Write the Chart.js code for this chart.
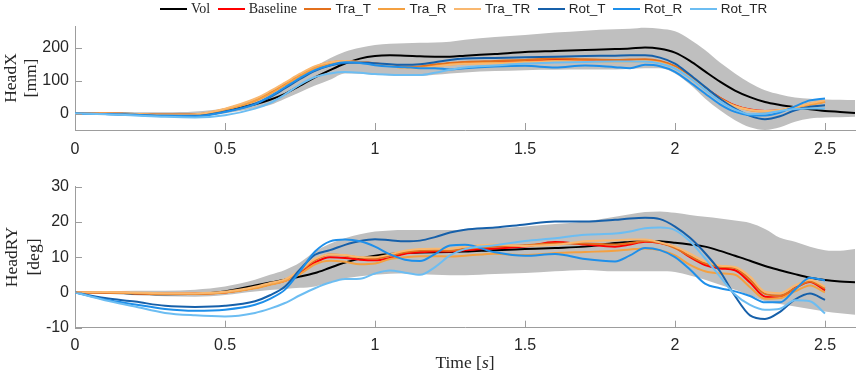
<!DOCTYPE html>
<html><head><meta charset="utf-8">
<script src="https://cdn.jsdelivr.net/npm/chart.js@4.4.0/dist/chart.umd.min.js"></script>
<style>
html,body{margin:0;padding:0;background:#fff;}
#wrap{position:relative;width:858px;height:374px;overflow:hidden;background:#fff;}
canvas{position:absolute;left:0;}
.ttl{position:absolute;font-family:"Liberation Serif","Times New Roman",serif;font-size:17.5px;color:#262626;white-space:nowrap;line-height:1;transform:translate(-50%,-50%) rotate(-90deg);}
#xt{position:absolute;font-family:"Liberation Serif","Times New Roman",serif;font-size:17.5px;color:#262626;white-space:nowrap;line-height:1;transform:translate(-50%,-50%);}
#legend{position:absolute;left:160px;top:0;height:17px;display:flex;align-items:center;z-index:5;}
.it{display:flex;align-items:center;margin-right:7.5px;}
.ln{width:27px;height:2px;margin-right:4px;}
.tx{font-family:"Liberation Sans",Arial,sans-serif;font-size:13.5px;color:#262626;line-height:1;}
.tx.serif{font-family:"Liberation Serif","Times New Roman",serif;font-size:14px;}
</style></head>
<body><div id="wrap">
<canvas id="c1" width="858" height="160" style="top:0"></canvas>
<canvas id="c2" width="858" height="214" style="top:160px"></canvas>
<div id="legend"></div>
<div class="ttl" style="left:11px;top:78px">HeadX</div>
<div class="ttl" style="left:31px;top:78px">[mm]</div>
<div class="ttl" style="left:12px;top:257px">HeadRY</div>
<div class="ttl" style="left:34px;top:257px">[deg]</div>
<div id="xt" style="left:465px;top:363px">Time [<i>s</i>]</div>
</div>
<script>
// ---------- data ----------
const seriesNames = ['Vol','Baseline','Tra_T','Tra_R','Tra_TR','Rot_T','Rot_R','Rot_TR'];
const seriesColors = ['#000000','#FF0000','#E3701C','#F4A040','#F9B870','#1660AA','#1E8FEA','#6CBDF2'];
const xTicks = [0,0.5,1,1.5,2,2.5];
const yTicksX = [0,100,200];
const yTicksRY = [-10,0,10,20,30];

const time = [0,0.1,0.2,0.3,0.4,0.5,0.6,0.65,0.7,0.75,0.8,0.85,0.9,0.95,1.0,1.05,1.1,1.15,1.2,1.25,1.3,1.4,1.5,1.6,1.7,1.8,1.85,1.9,1.95,2.0,2.05,2.1,2.15,2.2,2.25,2.3,2.35,2.4,2.45,2.5];
const timeVol = [0,0.1,0.2,0.3,0.4,0.5,0.6,0.65,0.7,0.75,0.8,0.85,0.9,0.95,1.0,1.05,1.1,1.15,1.2,1.25,1.3,1.4,1.5,1.6,1.7,1.8,1.85,1.9,1.95,2.0,2.05,2.1,2.15,2.2,2.25,2.3,2.35,2.4,2.45,2.5,2.55,2.6];

// HeadX [mm]
const volX   = [0,0,-1,-3,-3,8,28,42,60,85,110,132,152,167,175,177,176,174,173,173,176,181,187,190,193,196,198,201,197,185,160,128,97,70,50,35,26,19,13,8,5,2];
const volXHi = [2,3,4,4,6,16,40,58,81,112,142,168,188,200,208,212,214,215,216,218,224,233,239,246,252,256,258,261,258,250,225,193,155,122,93,71,58,49,45,43,42,41];
const volXLo = [-2,-3,-5,-9,-10,0,16,26,45,65,85,103,122,121,118,116,115,115,118,122,125,129,132,133,134,134,136,138,138,122,88,46,10,-20,-42,-50,-42,-25,-15,-12,-11,-10];
const baseX  = [0,0,-2,-4,-3,12,40,62,88,116,140,153,158,156,152,146,140,141,147,152,155,157,160,164,162,160,162,163,158,142,112,78,48,25,12,8,10,18,28,36];
const traTX  = [0,0,-2,-4,-3,13,42,64,90,118,142,155,159,157,153,147,142,143,149,154,157,160,163,167,165,163,164,165,160,144,113,79,48,24,11,7,10,19,30,38];
const traRX  = [0,0,-2,-4,-4,11,38,60,86,114,138,151,157,155,151,145,139,139,144,149,152,154,157,160,159,157,158,160,155,139,109,75,45,22,10,6,9,17,27,35];
const traTRX = [0,0,-1,-3,-2,15,45,68,94,121,144,156,160,157,152,145,138,138,143,148,151,152,155,158,157,156,157,159,154,138,108,74,44,22,11,8,11,20,31,40];
const rotTX  = [0,-1,-4,-7,-7,6,30,50,77,105,130,146,154,155,153,150,148,150,156,163,167,169,171,173,175,176,177,177,170,152,118,81,45,15,-7,-17,-8,10,21,25];
const rotRX  = [0,-1,-4,-7,-8,5,28,52,80,108,132,147,156,154,147,143,141,138,138,134,138,143,145,140,146,141,138,148,144,127,95,61,28,5,-5,-6,3,22,40,46];
const rotTRX = [0,-2,-6,-10,-12,-5,15,32,58,88,111,122,126,124,120,118,117,117,124,133,140,146,152,155,157,158,158,158,152,137,108,72,38,12,-2,0,8,14,15,15];

// HeadRY [deg]
const volRY   = [0,0,-0.3,-0.5,-0.4,0.3,2,2.8,3.6,4.5,5.5,7,8.5,9.6,10.4,10.9,11.2,11.3,11.4,11.5,11.6,12,12.3,12.6,13,14,14.3,14.6,14.5,14.1,13.6,13,11.8,10.4,9,7.5,6.3,5.2,4.2,3.5,3.1,2.9];
const volRYHi = [0,0.3,0.5,0.5,0.8,1.7,3.6,5,6.4,8.5,11.6,13.8,15.4,16.5,17.3,17.6,17.7,17.7,17.7,17.7,17.8,18.2,18.7,19.4,20.1,21.5,22.2,22.8,23,22.6,22,21.5,21,20.4,19.7,18,15.5,14.4,13,12,11.8,12.3];
const volRYLo = [0,-0.4,-0.8,-1.1,-1.2,-0.7,0.3,0.7,1,1.3,1.7,2.8,4,4.6,5,5.3,5.4,5.2,5,4.9,4.9,5.2,5.5,6,6.4,6,6,6,6,5.8,4.8,3.6,2.2,0.8,-0.8,-2.5,-3.3,-4,-4.7,-5.4,-5.9,-6.3];
const baseRY  = [0,0,-0.2,-0.4,-0.3,0,1.3,2.3,3.3,5.5,8.5,10,9.8,9.3,9.1,9.8,11,11.4,11.6,11.6,12,12.5,13,14.3,13.6,13,13.6,14.4,14,12.8,10,7.8,6.8,6.3,2.8,-1.2,-1.4,1.3,3,0.6];
const traTRY  = [0,0,-0.2,-0.4,-0.4,0,1.4,2.5,3.5,6,9.2,10.8,10.5,9.9,9.6,10.4,11.4,11.9,12,11.8,12.4,13,13.4,13.9,13.9,13.6,14,14.6,14.1,12.6,10.3,8.3,7.3,6.9,3.6,-0.4,-0.9,1.2,3.1,1.1];
const traRRY  = [0,0,-0.2,-0.4,-0.4,0,1.2,2.2,3.2,5.2,8,9,8.7,8,8.2,9.5,10,10.3,10.3,10.2,10.4,11,10.6,11.2,11.5,11.8,12.2,12.5,12,10.5,7.8,6,5.4,5,1.5,-1.8,-1.6,0.3,2,0];
const traTRRY = [0,0.1,0,-0.2,-0.2,0.2,1.6,2.7,3.7,6.3,9.5,10.8,10.6,10,10,10.8,11.8,12.3,12.4,12.4,13,13.6,13.2,13.5,14.5,14.8,15,15,14.2,13,11,8.8,7.6,7.2,4.5,0.2,-0.2,2,3.6,1.6];
const rotTRY  = [0,-1.6,-2.6,-3.8,-4.1,-3.8,-2.5,-0.8,1.7,6.5,10.7,12,13.5,14.6,15.1,14.8,14.5,14.7,15.7,17,17.8,18.4,19.3,20.1,20.1,20.6,21,21.2,20.8,18.7,15.5,11.2,6,-1,-6.5,-7.5,-5.5,-2,-0.3,-2.1];
const rotRRY  = [0,-2,-3.4,-4.7,-5.2,-4.9,-3.5,-1.8,0.8,6,11.6,14.5,15,14.5,13,10.8,9.3,8.9,10.9,13.3,13.5,11.4,10.4,10.9,9.5,8.8,10.5,12.6,12,10,6.5,2.5,1.2,0.3,-1,-2.8,-2.8,0.8,4.2,3.4];
const rotTRRY = [0,-2.2,-4,-5.8,-6.5,-6.8,-5.8,-4.6,-3,-0.8,1.2,2.8,3.8,3.9,5.4,6.2,5.6,5,7.2,10.5,12.3,13.4,14.6,15.4,16.4,16.7,17.3,18.2,18.4,17.7,14.5,9.7,4.5,-0.6,-3.5,-4.9,-4.6,-2.2,-2.5,-6];

// ---------- styling ----------
const AXIS = '#9d9d9d';
const TEXT = '#262626';
const BAND = '#BFBFBF';

// legend
const leg = document.getElementById('legend');
seriesNames.forEach((n,i)=>{
  const it = document.createElement('div'); it.className='it';
  const ln = document.createElement('div'); ln.className='ln'; ln.style.background = seriesColors[i];
  const tx = document.createElement('span'); tx.className = 'tx' + (i<2 ? ' serif' : ''); tx.textContent = n;
  it.appendChild(ln); it.appendChild(tx); leg.appendChild(it);
});

const pts = (t, v) => t.map((x,i)=>({x:x, y:v[i]}));
function lineDs(i, t, v){
  return {label: seriesNames[i], data: pts(t,v), borderColor: seriesColors[i], backgroundColor: seriesColors[i],
    borderWidth: 2, pointRadius: 0, fill: false, cubicInterpolationMode: 'monotone', order: 10 - i};
}
function bandDs(t, lo, hi){
  return [
    {label:'lo', data: pts(t,lo), borderWidth:0, borderColor:'rgba(0,0,0,0)', pointRadius:0, fill:false, cubicInterpolationMode:'monotone', order:101},
    {label:'hi', data: pts(t,hi), borderWidth:0, borderColor:'rgba(0,0,0,0)', backgroundColor: BAND, pointRadius:0, fill:'-1', cubicInterpolationMode:'monotone', order:100}
  ];
}

const inwardTicks = {
  id:'inwardTicks',
  afterDatasetsDraw(chart){
    const {ctx, chartArea:a, scales:{x,y}} = chart;
    ctx.save(); ctx.strokeStyle = AXIS; ctx.lineWidth = 1; ctx.beginPath();
    x.ticks.forEach(t=>{ const px = Math.round(x.getPixelForValue(t.value))+0.5; ctx.moveTo(px, a.bottom); ctx.lineTo(px, a.bottom-7); });
    y.ticks.forEach(t=>{ const py = Math.round(y.getPixelForValue(t.value))+0.5; ctx.moveTo(a.left, py); ctx.lineTo(a.left+7, py); });
    ctx.stroke(); ctx.restore();
  }
};

function makeChart(id, datasets, yMin, yMax, yTickVals, padTop, xH, xPad){
  return new Chart(document.getElementById(id), {
    type:'line',
    data:{datasets: datasets},
    options:{
      responsive:false, animation:false, events:[],
      layout:{padding:{top:padTop, right:3, left:0, bottom:0}},
      plugins:{legend:{display:false}, tooltip:{enabled:false}},
      scales:{
        x:{type:'linear', min:0, max:2.6,
           afterBuildTicks: s => { s.ticks = xTicks.map(v=>({value:v})); },
           afterFit: s => { s.height = xH; },
           grid:{drawOnChartArea:false, drawTicks:false},
           border:{display:true, color:AXIS, width:1},
           ticks:{padding:xPad, color:TEXT, font:{family:'"Liberation Sans", Arial, sans-serif', size:16}, callback: v => String(v), maxRotation:0}},
        y:{type:'linear', min:yMin, max:yMax,
           afterBuildTicks: s => { s.ticks = yTickVals.map(v=>({value:v})); },
           afterFit: s => { s.width = 75; },
           grid:{drawOnChartArea:false, drawTicks:false},
           border:{display:true, color:AXIS, width:1},
           ticks:{padding:6, color:TEXT, font:{family:'"Liberation Sans", Arial, sans-serif', size:16}, callback: v => String(v)}}
      }
    },
    plugins:[inwardTicks]
  });
}

const dsX = bandDs(timeVol, volXLo, volXHi).concat([
  lineDs(0, timeVol, volX), lineDs(1, time, baseX), lineDs(2, time, traTX), lineDs(3, time, traRX),
  lineDs(4, time, traTRX), lineDs(5, time, rotTX), lineDs(6, time, rotRX), lineDs(7, time, rotTRX)]);
const dsRY = bandDs(timeVol, volRYLo, volRYHi).concat([
  lineDs(0, timeVol, volRY), lineDs(1, time, baseRY), lineDs(2, time, traTRY), lineDs(3, time, traRRY),
  lineDs(4, time, traTRRY), lineDs(5, time, rotTRY), lineDs(6, time, rotRRY), lineDs(7, time, rotTRRY)]);

makeChart('c1', dsX, -50, 264, yTicksX, 26.7, 30, 10);
makeChart('c2', dsRY, -10, 30, yTicksRY, 26.7, 46.3, 8);
</script>
</body></html>
